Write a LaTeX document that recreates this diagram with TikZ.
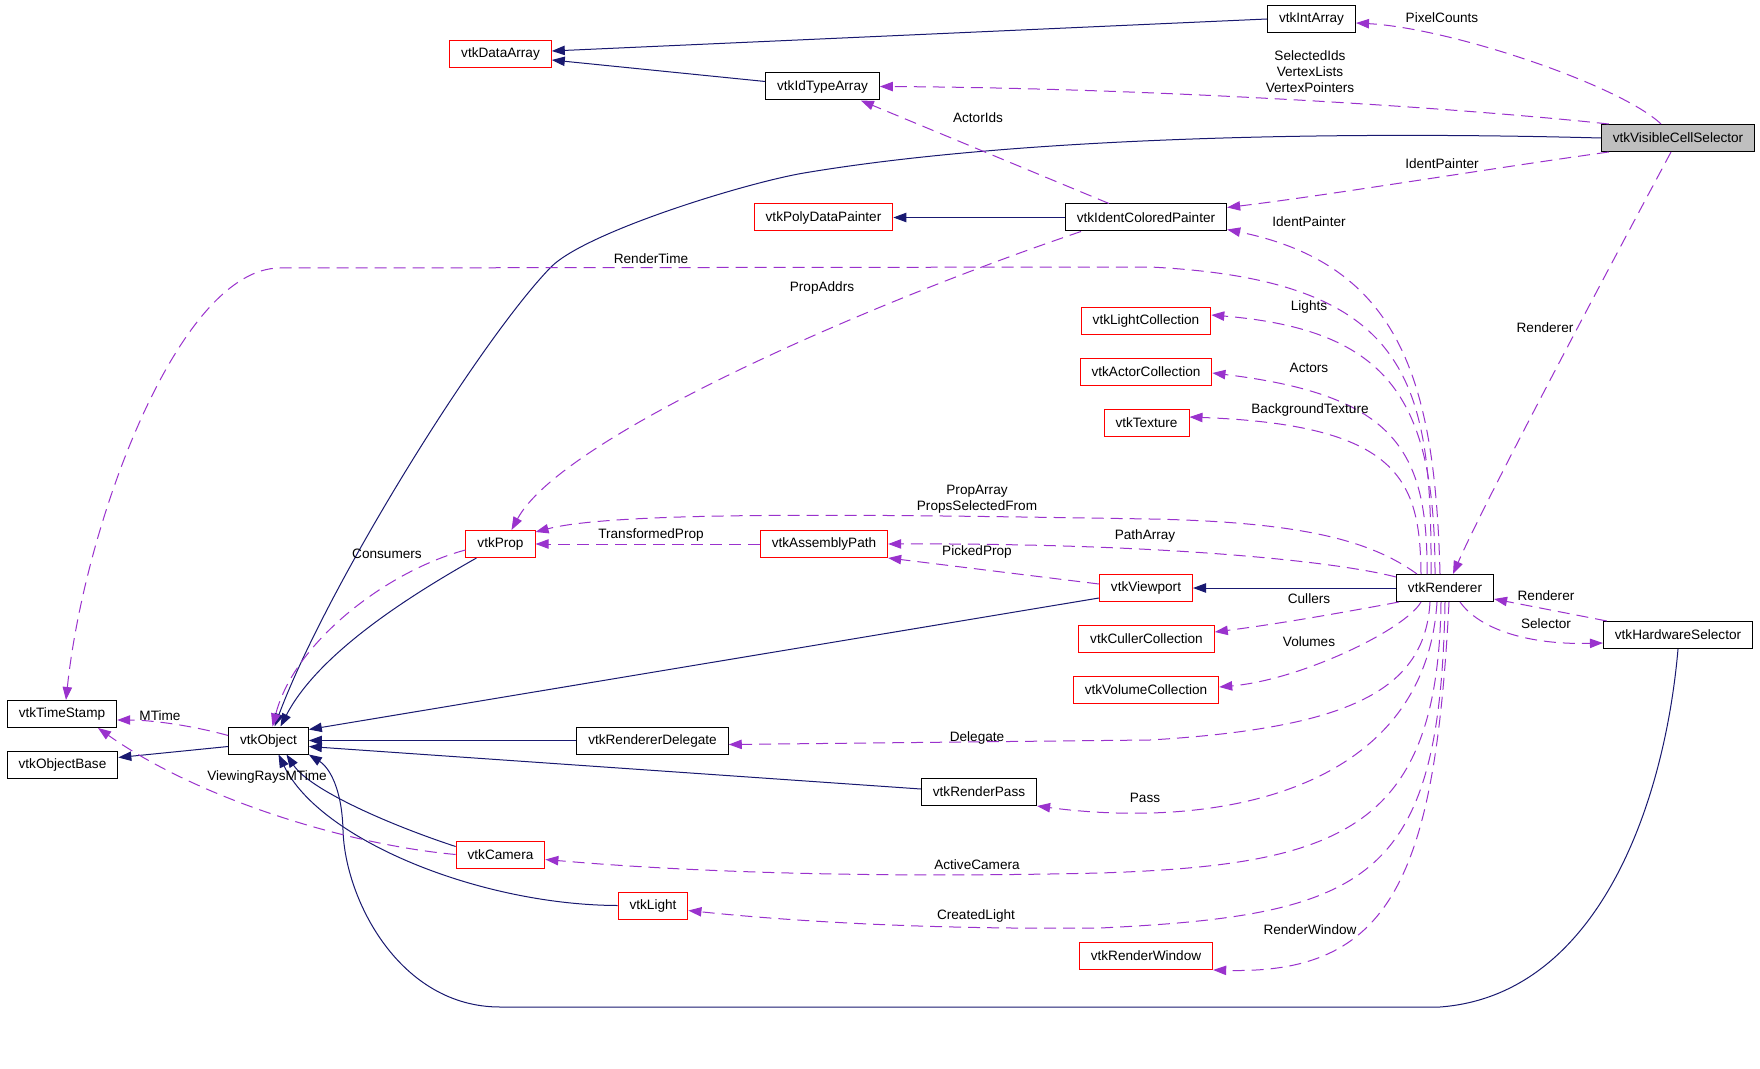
\documentclass[tikz,border=0pt]{standalone}
\usepackage{fontspec}
\setmainfont{Liberation Sans}
\usetikzlibrary{arrows.meta,calc}
\definecolor{inhnavy}{RGB}{25,25,112}
\definecolor{usepurple}{RGB}{154,50,205}
\definecolor{selgray}{RGB}{191,191,191}

\begin{document}
\begin{tikzpicture}[
  x=0.5pt, y=-0.5pt,
  font=\fontsize{6.8}{8}\selectfont,
  cls/.style={draw=black, line width=0.5pt, inner xsep=5.75pt, inner ysep=0pt, minimum height=13.5pt},
  ext/.style={cls, draw=red},
  sel/.style={cls, fill=selgray},
  inh/.style={-{Triangle[length=6.5pt,width=4.7pt]}, inhnavy, line width=0.5pt},
  usage/.style={-{Triangle[length=6.5pt,width=4.7pt]}, usepurple, line width=0.5pt, dash pattern=on 6pt off 3.5pt},
  lab/.style={align=center, inner sep=0pt},
]
\useasboundingbox[fill=white] (0,0) rectangle (1760,1069);
% ---- classes ----
\node[cls] (intarr) at (1311.5,19) {vtkIntArray};
\node[ext] (dataarr) at (500.5,54) {vtkDataArray};
\node[cls] (idtype) at (822.5,86.5) {vtkIdTypeArray};
\node[sel] (vcs) at (1678,138) {vtkVisibleCellSelector};
\node[ext] (polypaint) at (823.5,217.5) {vtkPolyDataPainter};
\node[cls] (identpaint) at (1146,217.5) {vtkIdentColoredPainter};
\node[ext] (lightcoll) at (1146,321) {vtkLightCollection};
\node[ext] (actorcoll) at (1146,372) {vtkActorCollection};
\node[ext] (texture) at (1146.5,423) {vtkTexture};
\node[ext] (prop) at (500.5,544) {vtkProp};
\node[ext] (asmpath) at (824,544) {vtkAssemblyPath};
\node[ext] (viewport) at (1146,588) {vtkViewport};
\node[cls] (renderer) at (1445,588) {vtkRenderer};
\node[ext] (cullercoll) at (1146.5,639) {vtkCullerCollection};
\node[ext] (volcoll) at (1146,690) {vtkVolumeCollection};
\node[cls] (hwsel) at (1678,635) {vtkHardwareSelector};
\node[cls] (timestamp) at (62,714) {vtkTimeStamp};
\node[cls] (object) at (268.5,740.5) {vtkObject};
\node[cls] (objbase) at (62.5,764.5) {vtkObjectBase};
\node[cls] (rdelegate) at (652.5,740.5) {vtkRendererDelegate};
\node[cls] (rpass) at (979,792) {vtkRenderPass};
\node[ext] (camera) at (500.5,854.5) {vtkCamera};
\node[ext] (light) at (653,905.5) {vtkLight};
\node[ext] (rwindow) at (1146,956) {vtkRenderWindow};
% ---- inheritance (solid) ----
\draw[inh] (intarr.west) -- ($(dataarr.east)+(0,-3)$);
\draw[inh] ($(idtype.west)+(0,-5)$) -- ($(dataarr.east)+(0,6)$);
\draw[inh] (identpaint.west) -- (polypaint.east);
\draw[inh] (renderer.west) -- (viewport.east);
\draw[inh] (vcs.west) .. controls (1300,130) and (1000,140) .. (804,173) .. controls (745,183) and (586,232) .. (551,267) .. controls (480,340) and (327,586) .. ($(object.north)+(6,0)$);
\draw[inh] ($(prop.south west)+(11,0)$) .. controls (420,590) and (320,650) .. ($(object.north)+(12,0)$);
\draw[inh] ($(viewport.south west)+(0,-4)$) -- ($(object.north east)+(0,3)$);
\draw[inh] (rdelegate.west) -- (object.east);
\draw[inh] ($(rpass.west)+(0,-3)$) -- ($(object.east)+(0,6)$);
\draw[inh] ($(camera.north west)+(0,6)$) .. controls (390,825) and (310,790) .. ($(object.south)+(18,0)$);
\draw[inh] (light.west) .. controls (480,905) and (320,840) .. ($(object.south)+(10,0)$);
\draw[inh] (hwsel.south) .. controls (1665,800) and (1600,995) .. (1440,1007) -- (500,1007) .. controls (400,1007) and (345,900) .. (343,830) .. controls (342,790) and (330,768) .. (object.south east);
\draw[inh] ($(object.west)+(0,6)$) -- ($(objbase.east)+(0,-7)$);
% ---- usage (dashed) ----
\draw[usage] ($(vcs.north)+(-17,0)$) .. controls (1620,85) and (1450,28) .. ($(intarr.east)+(0,4)$);
\draw[usage] ($(vcs.north west)+(8,0)$) .. controls (1450,107) and (1150,88) .. (idtype.east);
\draw[usage] ($(vcs.south west)+(8,0)$) .. controls (1480,170) and (1330,195) .. ($(identpaint.east)+(0,-10)$);
\draw[usage] ($(vcs.south)+(-7,0)$) .. controls (1640,210) and (1490,490) .. ($(renderer.north)+(8,0)$);
\draw[usage] ($(identpaint.north)+(-37,0)$) -- ($(idtype.south east)+(-19,0)$);
\draw[usage] ($(identpaint.south)+(-65,0)$) .. controls (850,310) and (560,440) .. ($(prop.north)+(11,0)$);
\draw[usage] ($(renderer.north)+(-5,0)$) .. controls (1435,380) and (1400,265) .. ($(identpaint.south east)+(0,-2)$);
\draw[usage] ($(renderer.north)+(-14,0)$) .. controls (1432,380) and (1410,280) .. (1150,267) -- (280,268) .. controls (180,268) and (85,520) .. ($(timestamp.north)+(4,0)$);
\draw[usage] ($(renderer.north)+(-10,0)$) .. controls (1435,400) and (1390,330) .. ($(lightcoll.east)+(0,-6)$);
\draw[usage] ($(renderer.north)+(-18,0)$) .. controls (1428,450) and (1395,395) .. ($(actorcoll.east)+(0,1)$);
\draw[usage] ($(renderer.north)+(-24,0)$) .. controls (1420,480) and (1400,425) .. ($(texture.east)+(0,-6)$);
\draw[usage] ($(renderer.north)+(-28,0)$) .. controls (1370,540) and (1300,522) .. (1150,519) .. controls (900,515) and (620,510) .. ($(prop.north east)+(0,2)$);
\draw[usage] ($(renderer.north west)+(0,3)$) .. controls (1330,560) and (1150,543) .. (asmpath.east);
\draw[usage] ($(viewport.west)+(0,-4)$) -- (asmpath.south east);
\draw[usage] (asmpath.west) -- (prop.east);
\draw[usage] ($(renderer.south west)+(3,0)$) .. controls (1330,615) and (1270,625) .. ($(cullercoll.east)+(0,-7)$);
\draw[usage] ($(renderer.south)+(-24,0)$) .. controls (1405,630) and (1300,680) .. ($(volcoll.east)+(0,-3)$);
\draw[usage] ($(renderer.south)+(-15,0)$) .. controls (1425,690) and (1350,728) .. (1150,740) -- ($(rdelegate.east)+(0,4)$);
\draw[usage] ($(renderer.south)+(-8,0)$) .. controls (1425,790) and (1220,830) .. (rpass.south east);
\draw[usage] ($(renderer.south)+(-4,0)$) .. controls (1438,830) and (1340,865) .. (1100,873) .. controls (800,880) and (620,866) .. ($(camera.east)+(0,5)$);
\draw[usage] (renderer.south) .. controls (1440,880) and (1370,915) .. (1100,928) .. controls (900,930) and (760,918) .. ($(light.east)+(0,5)$);
\draw[usage] ($(renderer.south)+(4,0)$) .. controls (1435,880) and (1390,975) .. (rwindow.south east);
\draw[usage] ($(renderer.south)+(15,0)$) .. controls (1480,630) and (1530,645) .. ($(hwsel.west)+(0,8)$);
\draw[usage] ($(hwsel.north west)+(4,0)$) -- ($(renderer.south east)+(0,-3)$);
\draw[usage] ($(prop.west)+(0,6)$) .. controls (390,570) and (295,640) .. ($(object.north)+(4,0)$);
\draw[usage] ($(object.west)+(0,-5)$) .. controls (190,725) and (150,720) .. ($(timestamp.east)+(0,6)$);
\draw[usage] (camera.west) .. controls (350,845) and (200,800) .. ($(timestamp.south)+(36,0)$);
% ---- member labels ----
\node[lab] (lPixelCounts) at (1442,18) {PixelCounts};
\node[lab] (lSelectedIds) at (1310,72) {SelectedIds\\VertexLists\\VertexPointers};
\node[lab] (lActorIds) at (978,118) {ActorIds};
\node[lab] (lIdentVcs) at (1442,164) {IdentPainter};
\node[lab] (lIdentRen) at (1309,222) {IdentPainter};
\node[lab] (lRenderTime) at (651,259) {RenderTime};
\node[lab] (lPropAddrs) at (822,288) {PropAddrs};
\node[lab] (lLights) at (1309,307) {Lights};
\node[lab] (lRendererVcs) at (1545,328) {Renderer};
\node[lab] (lActors) at (1309,368) {Actors};
\node[lab] (lBgTexture) at (1310,410) {BackgroundTexture};
\node[lab] (lPropArray) at (977,499) {PropArray\\PropsSelectedFrom};
\node[lab] (lTransformed) at (651,535) {TransformedProp};
\node[lab] (lPathArray) at (1145,536) {PathArray};
\node[lab] (lPickedProp) at (977,552) {PickedProp};
\node[lab] (lConsumers) at (387,554) {Consumers};
\node[lab] (lRendererHw) at (1546,596) {Renderer};
\node[lab] (lCullers) at (1309,599) {Cullers};
\node[lab] (lSelector) at (1546,624) {Selector};
\node[lab] (lVolumes) at (1309,642) {Volumes};
\node[lab] (lMTime) at (160,716) {MTime};
\node[lab] (lDelegate) at (977,738) {Delegate};
\node[lab] (lViewingRays) at (267,777) {ViewingRaysMTime};
\node[lab] (lPass) at (1145,798) {Pass};
\node[lab] (lActiveCamera) at (977,865) {ActiveCamera};
\node[lab] (lCreatedLight) at (976,916) {CreatedLight};
\node[lab] (lRenderWindow) at (1310,930) {RenderWindow};
\end{tikzpicture}
\end{document}
